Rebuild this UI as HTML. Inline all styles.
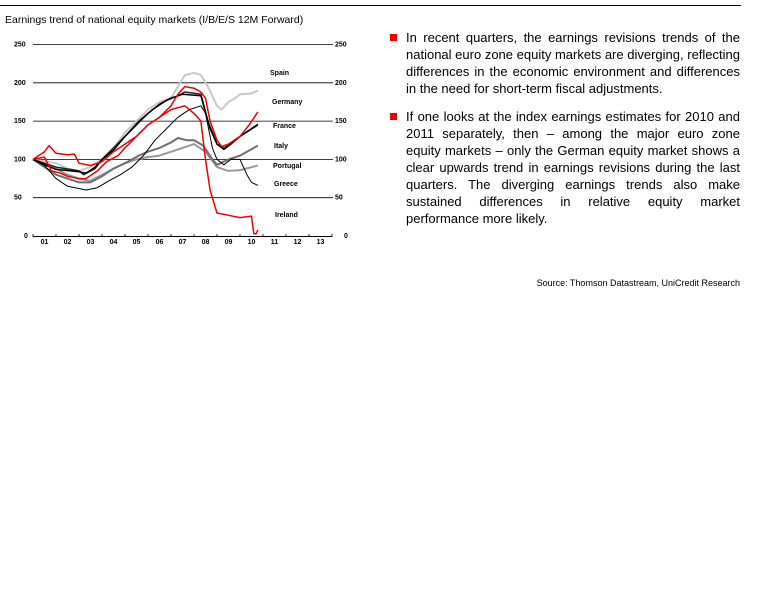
<!DOCTYPE html>
<html><head><meta charset="utf-8"><style>
body{margin:0;width:768px;height:614px;background:#fff;font-family:"Liberation Sans",sans-serif;position:relative;overflow:hidden}
.t{position:absolute;color:#000}
.p{position:absolute;left:406px;width:334px;font-size:13px;line-height:17px;text-align:justify;text-align-last:left}
.b{position:absolute;left:390px;width:7px;height:7px;background:#e00}
</style></head><body>
<div style="position:absolute;left:0;top:5px;width:741px;height:1px;background:#000"></div>
<div class="t" style="left:5px;top:14px;font-size:10.5px">Earnings trend of national equity markets (I/B/E/S 12M Forward)</div>
<div class="b" style="top:34px"></div>
<div class="p" style="top:29px">In recent quarters, the earnings revisions trends of the national euro zone equity markets are diverging, reflecting differences in the economic environment and differences in the need for short-term fiscal adjustments.</div>
<div class="b" style="top:113px"></div>
<div class="p" style="top:108px">If one looks at the index earnings estimates for 2010 and 2011 separately, then – among the major euro zone equity markets – only the German equity market shows a clear upwards trend in earnings revisions during the last quarters. The diverging earnings trends also make sustained differences in relative equity market performance more likely.</div>
<div class="t" style="right:28px;top:278px;font-size:9px">Source: Thomson Datastream, UniCredit Research</div>
<svg id="s" width="768" height="260" style="position:absolute;left:0;top:0" font-family="Liberation Sans, sans-serif" font-size="7" font-weight="bold"></svg>
<script>
var s=document.getElementById('s'),h='';
function X(t){return 33+(t-2001)*23}
function Y(v){return 236-v*0.766}
[250,200,150,100,50].forEach(function(v){var y=Y(v);h+='<line x1="33" x2="333" y1="'+y+'" y2="'+y+'" stroke="#000" stroke-width="0.8"/>';
h+='<text x="14" y="'+(y+2)+'">'+v+'</text><text x="335" y="'+(y+2)+'">'+v+'</text>';});
h+='<text x="24" y="238">0</text><text x="344" y="238">0</text>';
h+='<line x1="33" x2="332" y1="236.5" y2="236.5" stroke="#000" stroke-width="1"/>';
for(var i=0;i<=13;i++){var x=X(2001+i);h+='<line x1="'+x+'" x2="'+x+'" y1="234" y2="237" stroke="#000" stroke-width="0.8"/>';}
for(var i=0;i<13;i++){h+='<text x="'+(X(2001.5+i))+'" y="244" text-anchor="middle">'+('0'+(i+1)).slice(-2)+'</text>';}
var S=[
['#c8c8c8',2,[[2001,100],[2002,95],[2002.5,88],[2003,85],[2003.5,90],[2004,100],[2004.5,115],[2005,135],[2005.5,150],[2006,165],[2006.5,175],[2007,180],[2007.3,195],[2007.6,210],[2008,213],[2008.3,210],[2008.6,195],[2009,170],[2009.2,165],[2009.5,175],[2009.8,180],[2010,185],[2010.5,186],[2010.78,190]]],
['#999',2,[[2001,100],[2002,88],[2002.5,80],[2003,75],[2003.5,72],[2004,80],[2004.5,88],[2005,95],[2005.5,100],[2006,103],[2006.5,105],[2007.5,115],[2008,120],[2008.5,110],[2009,90],[2009.5,85],[2010,86],[2010.78,92]]],
['#707070',2,[[2001,100],[2001.5,90],[2002,80],[2002.5,75],[2003,70],[2003.5,70],[2004,78],[2004.5,88],[2005,95],[2005.6,105],[2006,110],[2006.5,115],[2007,122],[2007.3,128],[2007.7,125],[2008,125],[2008.4,118],[2008.8,100],[2009,93],[2009.5,100],[2010,105],[2010.78,118]]],
['#000',1,[[2001,100],[2001.5,92],[2002,75],[2002.5,65],[2003,62],[2003.3,60],[2003.8,63],[2004.3,72],[2004.8,80],[2005.3,90],[2005.8,105],[2006.3,125],[2006.8,140],[2007.3,155],[2007.8,165],[2008.3,170],[2008.5,160],[2008.8,115],[2009,100],[2009.3,93],[2009.6,100],[2010,100],[2010.3,80],[2010.5,70],[2010.78,66]]],
['#222',1.5,[[2001,100],[2002,90],[2003,85],[2003.2,80],[2003.7,88],[2004,100],[2004.5,115],[2005,130],[2005.6,150],[2006.2,165],[2006.8,177],[2007.3,183],[2007.6,188],[2008.3,185],[2008.7,140],[2009,120],[2009.3,115],[2009.6,120],[2010,130],[2010.78,146]]],
['#000',1.5,[[2001,100],[2001.5,93],[2002,87],[2003,84],[2003.3,82],[2003.7,90],[2004,100],[2004.5,112],[2005,130],[2005.5,145],[2006,160],[2006.5,172],[2007,180],[2007.5,185],[2008.3,183],[2008.6,150],[2009,120],[2009.3,113],[2009.6,120],[2010,130],[2010.78,145]]],
['#e00',1.5,[[2001,100],[2001.5,103],[2001.8,85],[2002.2,82],[2002.5,78],[2003,75],[2003.3,75],[2003.8,85],[2004.2,97],[2004.7,105],[2005,115],[2005.5,130],[2006,145],[2006.5,155],[2007,165],[2007.6,170],[2008,160],[2008.3,150],[2008.5,100],[2008.7,60],[2009,30],[2009.5,27],[2010,24],[2010.5,26],[2010.6,3],[2010.7,3],[2010.78,8]]],
['#e00',1.5,[[2001,100],[2001.5,110],[2001.7,118],[2002,108],[2002.5,106],[2002.8,107],[2003,95],[2003.5,92],[2004,97],[2004.5,110],[2005,120],[2005.5,130],[2006,145],[2006.5,155],[2007,170],[2007.3,185],[2007.6,195],[2008,193],[2008.3,188],[2008.5,180],[2008.7,150],[2009,125],[2009.2,117],[2009.5,120],[2010,130],[2010.4,145],[2010.78,162]]]
];
S.forEach(function(a){h+='<polyline fill="none" stroke="'+a[0]+'" stroke-width="'+a[1]+'" stroke-linejoin="round" points="'+a[2].map(function(p){return X(p[0]).toFixed(1)+','+Y(p[1]).toFixed(1)}).join(' ')+'"/>';});
[['Spain',270,75],['Germany',272,104],['France',273,128],['Italy',274,148],['Portugal',273,168],['Greece',274,186],['Ireland',275,217]].forEach(function(l){h+='<text x="'+l[1]+'" y="'+l[2]+'">'+l[0]+'</text>';});
s.innerHTML=h;
</script>
</body></html>
